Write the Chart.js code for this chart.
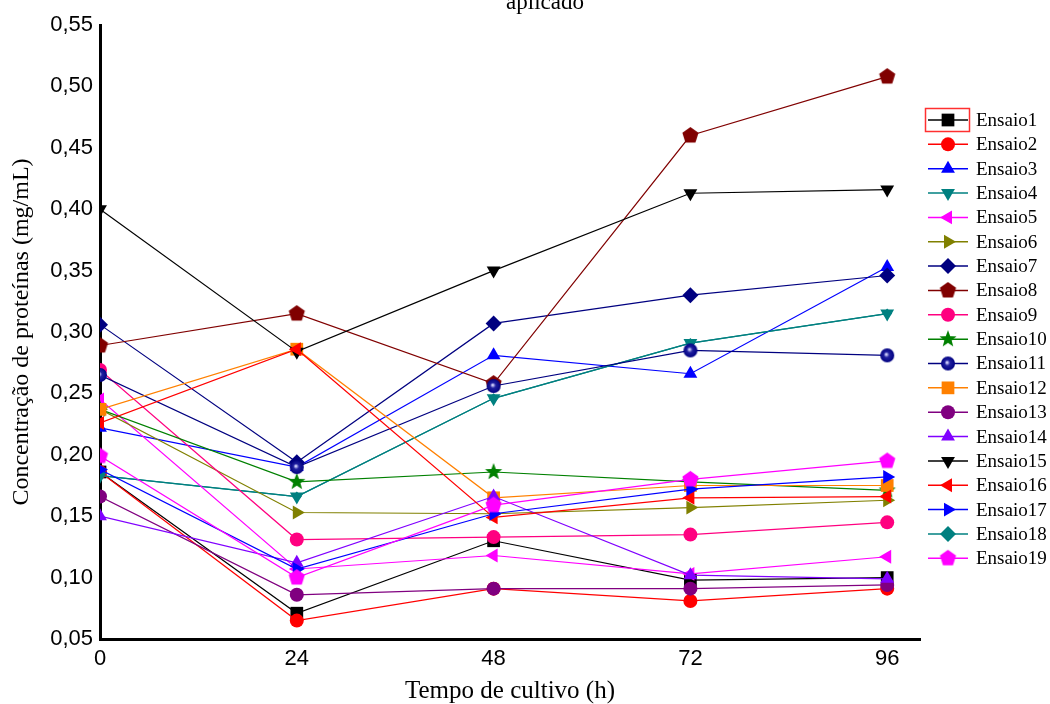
<!DOCTYPE html>
<html>
<head>
<meta charset="utf-8">
<script src="https://cdn.jsdelivr.net/npm/chart.js@4/dist/chart.umd.min.js"></script>
<style>
    body { margin: 0; background: #fff; overflow: hidden; }
</style>
</head>
<body>
<canvas id="chart" width="1050" height="704"></canvas>
<script>
// tempo de cultivo (h)
const tempo = [0, 24, 48, 72, 96];
const xTicks = [0, 24, 48, 72, 96];

// concentração de proteínas (mg/mL)
const ensaio1 = [0.186, 0.071, 0.130, 0.098, 0.100];
const ensaio2 = [0.186, 0.065, 0.091, 0.081, 0.091];
const ensaio3 = [0.222, 0.190, 0.281, 0.266, 0.353];
const ensaio4 = [0.183, 0.166, 0.246, 0.291, 0.315];
const ensaio5 = [0.245, 0.107, 0.118, 0.103, 0.117];
const ensaio6 = [0.237, 0.153, 0.152, 0.157, 0.163];
const ensaio7 = [0.306, 0.194, 0.307, 0.330, 0.346];
const ensaio8 = [0.289, 0.315, 0.258, 0.460, 0.508];
const ensaio9 = [0.269, 0.131, 0.133, 0.135, 0.145];
const ensaio10 = [0.237, 0.178, 0.186, 0.178, 0.171];
const ensaio11 = [0.265, 0.190, 0.256, 0.285, 0.281];
const ensaio12 = [0.237, 0.286, 0.165, 0.175, 0.175];
const ensaio13 = [0.166, 0.086, 0.091, 0.091, 0.094];
const ensaio14 = [0.150, 0.112, 0.166, 0.102, 0.099];
const ensaio15 = [0.400, 0.284, 0.350, 0.413, 0.416];
const ensaio16 = [0.226, 0.286, 0.149, 0.165, 0.166];
const ensaio17 = [0.188, 0.107, 0.152, 0.172, 0.182];
const ensaio18 = [0.183, 0.166, 0.246, 0.291, 0.315];
const ensaio19 = [0.199, 0.100, 0.159, 0.180, 0.195];

const series = [ensaio1, ensaio2, ensaio3, ensaio4, ensaio5, ensaio6, ensaio7, ensaio8, ensaio9, ensaio10,
    ensaio11, ensaio12, ensaio13, ensaio14, ensaio15, ensaio16, ensaio17, ensaio18, ensaio19];
const names = series.map((s, i) => 'Ensaio' + (i + 1));

const colors = ['#000000', '#ff0000', '#0000ff', '#008080', '#ff00ff', '#808000', '#000080', '#800000', '#ff0080', '#008000',
    '#000080', '#ff8000', '#800080', '#8000ff', '#000000', '#ff0000', '#0000ff', '#008080', '#ff00ff'];

const titleText = 'aplicado';

// small canvases for the marker shapes chart.js does not have
function shapeCanvas(size, draw) {
    const c = document.createElement('canvas');
    c.width = size;
    c.height = size;
    draw(c.getContext('2d'), size / 2);
    return c;
}

function polygon(color, r, inner, n) {
    return shapeCanvas(Math.ceil(r * 2) + 2, function (ctx, m) {
        ctx.fillStyle = color;
        ctx.beginPath();
        const steps = inner ? n * 2 : n;
        for (let k = 0; k < steps; k++) {
            const rr = inner && k % 2 === 1 ? inner : r;
            const a = -Math.PI / 2 + k * 2 * Math.PI / steps;
            const px = m + rr * Math.cos(a), py = m + rr * Math.sin(a);
            if (k === 0) ctx.moveTo(px, py); else ctx.lineTo(px, py);
        }
        ctx.closePath();
        ctx.fill();
    });
}

const sphere = shapeCanvas(16, function (ctx, m) {
    const g = ctx.createRadialGradient(m - 1, m - 1, 0.5, m, m, 7);
    g.addColorStop(0, '#d8d8ff');
    g.addColorStop(0.35, '#2020a0');
    g.addColorStop(1, '#000080');
    ctx.fillStyle = g;
    ctx.beginPath();
    ctx.arc(m, m, 7, 0, Math.PI * 2);
    ctx.fill();
});

const markers = [
    {style: 'rect', r: 9},
    {style: 'circle', r: 7},
    {style: 'triangle', r: 8},
    {style: 'triangle', r: 8, rot: 180},
    {style: 'triangle', r: 8, rot: 270},
    {style: 'triangle', r: 8, rot: 90},
    {style: 'rectRot', r: 8},
    {style: polygon('#800000', 8.5, 0, 5), r: 8},
    {style: 'circle', r: 7},
    {style: polygon('#008000', 9, 3.8, 5), r: 8},
    {style: sphere, r: 7},
    {style: 'rect', r: 9},
    {style: 'circle', r: 7},
    {style: 'triangle', r: 8},
    {style: 'triangle', r: 8, rot: 180},
    {style: 'triangle', r: 8, rot: 270},
    {style: 'triangle', r: 8, rot: 90},
    {style: 'rectRot', r: 8},
    {style: polygon('#ff00ff', 8.5, 0, 5), r: 8}
];

const datasets = series.map((s, i) => ({
    label: names[i],
    data: tempo.map((t, j) => ({x: t, y: s[j]})),
    borderColor: colors[i],
    backgroundColor: colors[i],
    borderWidth: 1.2,
    pointStyle: markers[i].style,
    pointRadius: i === 17 ? 5 : markers[i].r, // Ensaio18 hidden under Ensaio4 in the plot
    pointRotation: markers[i].rot || 0,
    pointBorderWidth: 0,
    tension: 0,
    // later series on top, Ensaio18 sits under Ensaio4
    order: i === 17 ? 100 : series.length - i
}));

// title line + legend on the right (line + marker + name)
const extras = {
    id: 'extras',
    afterDraw(chart) {
        const ctx = chart.ctx;
        ctx.save();
        ctx.fillStyle = '#000';
        ctx.font = '23px "Liberation Serif", "Times New Roman", serif';
        ctx.textAlign = 'center';
        ctx.textBaseline = 'alphabetic';
        ctx.fillText(titleText, 545, 9);

        datasets.forEach((ds, i) => {
            const y = 120 + i * 24.35;
            ctx.strokeStyle = ds.borderColor;
            ctx.lineWidth = 1.5;
            ctx.beginPath();
            ctx.moveTo(928, y);
            ctx.lineTo(968, y);
            ctx.stroke();
            ctx.fillStyle = ds.backgroundColor;
            Chart.helpers.drawPoint(ctx, {
                pointStyle: ds.pointStyle,
                radius: markers[i].r,
                rotation: ds.pointRotation,
                borderWidth: 0
            }, 948, y);
            ctx.fillStyle = '#000';
            ctx.font = '19px "Liberation Serif", "Times New Roman", serif';
            ctx.textBaseline = 'middle';
            ctx.textAlign = 'left';
            ctx.fillText(ds.label, 976, y + 1);
        });
        // selected item box
        ctx.strokeStyle = '#ff3030';
        ctx.lineWidth = 1.5;
        ctx.strokeRect(925.5, 108.5, 44, 23);
        ctx.restore();
    }
};

new Chart(document.getElementById('chart'), {
    type: 'line',
    data: {datasets: datasets},
    plugins: [extras],
    options: {
        responsive: false,
        animation: false,
        layout: {padding: {left: 10, right: 130, top: 25, bottom: 0}},
        plugins: {
            legend: {display: false},
            tooltip: {enabled: false}
        },
        scales: {
            x: {
                type: 'linear',
                min: 0,
                max: 100,
                afterBuildTicks: (scale) => {
                    scale.ticks = xTicks.map(v => ({value: v}));
                },
                grid: {display: false, drawTicks: false},
                border: {display: true, color: '#000', width: 3},
                ticks: {
                    color: '#000',
                    padding: 9,
                    font: {family: '"Liberation Sans", Arial, sans-serif', size: 22, lineHeight: 1}
                },
                title: {
                    display: true,
                    text: 'Tempo de cultivo (h)',
                    color: '#000',
                    font: {family: '"Liberation Serif", "Times New Roman", serif', size: 25, lineHeight: 1},
                    padding: {top: 0, bottom: 0}
                }
            },
            y: {
                min: 0.05,
                max: 0.55,
                afterFit: (scale) => {
                    scale.width = 90;
                },
                grid: {display: false, drawTicks: false},
                border: {display: true, color: '#000', width: 3},
                ticks: {
                    stepSize: 0.05,
                    color: '#000',
                    padding: 7,
                    font: {family: '"Liberation Sans", Arial, sans-serif', size: 22},
                    callback: (v) => v.toFixed(2).replace('.', ',')
                },
                title: {
                    display: true,
                    text: 'Concentração de proteínas (mg/mL)',
                    color: '#000',
                    font: {family: '"Liberation Serif", "Times New Roman", serif', size: 24, lineHeight: 1},
                    padding: 0
                }
            }
        }
    }
});
</script>
</body>
</html>
